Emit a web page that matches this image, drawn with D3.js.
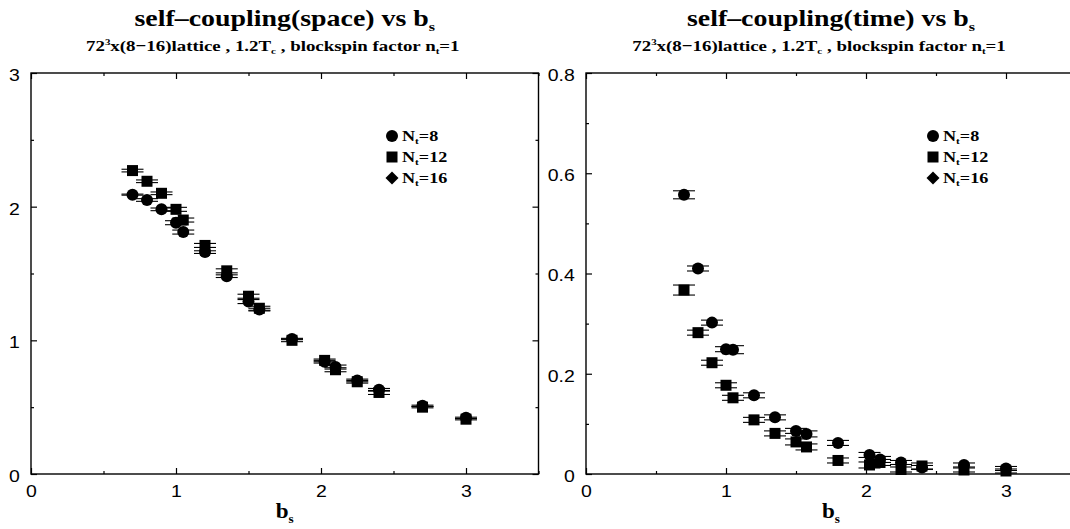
<!DOCTYPE html>
<html>
<head>
<meta charset="utf-8">
<script src="https://cdn.jsdelivr.net/npm/d3@7/dist/d3.min.js"></script>
<style>
  body { margin: 0; background: #fff; }
  svg { display: block; }
</style>
</head>
<body>
<svg id="chart" width="1070" height="529"></svg>
<script>
// blockspin length b_s for each measurement
const bsValues = [0.7, 0.8, 0.9, 1.0, 1.05, 1.2, 1.35, 1.5, 1.575, 1.8, 2.025, 2.1, 2.25, 2.4, 2.7, 3.0];

// self-coupling (space)
const spaceNt8    = [2.09, 2.05, 1.98, 1.88, 1.81, 1.66, 1.48, 1.29, 1.23, 1.01, 0.84, 0.80, 0.70, 0.63, 0.51, 0.42];
const spaceNt8Err = [0.004, 0.010, 0.010, 0.015, 0.015, 0.010, 0.010, 0.015, 0.010, 0.005, 0.010, 0.015, 0.010, 0.010, 0.005, 0.005];
const spaceNt12    = [2.27, 2.19, 2.10, 1.98, 1.90, 1.71, 1.52, 1.33, 1.24, 1.00, 0.85, 0.78, 0.69, 0.61, 0.50, 0.41];
const spaceNt12Err = [0.010, 0.010, 0.010, 0.015, 0.015, 0.015, 0.015, 0.015, 0.015, 0.010, 0.010, 0.015, 0.010, 0.015, 0.005, 0.005];

// self-coupling (time)
const timeNt8    = [0.557, 0.410, 0.302, 0.249, 0.248, 0.157, 0.113, 0.086, 0.080, 0.062, 0.038, 0.029, 0.023, 0.013, 0.018, 0.011];
const timeNt8Err = [0.008, 0.005, 0.005, 0.005, 0.008, 0.005, 0.005, 0.005, 0.006, 0.005, 0.005, 0.006, 0.004, 0.004, 0.004, 0.004];
const timeNt12    = [0.367, 0.282, 0.222, 0.177, 0.152, 0.108, 0.081, 0.064, 0.054, 0.027, 0.018, 0.023, 0.009, 0.016, 0.008, 0.006];
const timeNt12Err = [0.010, 0.005, 0.005, 0.005, 0.005, 0.005, 0.005, 0.006, 0.006, 0.005, 0.006, 0.006, 0.005, 0.006, 0.004, 0.004];

// legend entries (N_t values) and their symbols
const legendNt = ["8", "12", "16"];
const legendSymbols = ["circle", "square", "diamond"];

// axis ticks
const xMajorTicks = [0, 1, 2, 3];
const xMinorTicks = [0.5, 1.5, 2.5, 3.5];
const spaceYMajor = [0, 1, 2, 3];
const spaceYMinor = [0.5, 1.5, 2.5];
const timeYMajor = [0, 0.2, 0.4, 0.6, 0.8];
const timeYMinor = [0.1, 0.3, 0.5, 0.7];

const svg = d3.select("#chart");
const SERIF = "'Liberation Serif', 'Times New Roman', serif";
const SANS = "'Liberation Sans', Arial, sans-serif";

// text stretched horizontally around its anchor point
function stretchedText(parent, x, y, sx, size, family, anchor) {
  return parent.append("text")
    .attr("transform", `translate(${x},${y}) scale(${sx},1)`)
    .attr("text-anchor", anchor || "middle")
    .attr("font-family", family)
    .attr("font-weight", family === SERIF ? "bold" : "normal")
    .attr("font-size", size)
    .attr("fill", "#000");
}

function addPart(t, str, shift, size) {
  const s = t.append("tspan").text(str);
  if (shift) s.attr("dy", shift);
  if (size) s.attr("font-size", size);
  return s;
}

function drawSymbol(g, kind, cx, cy) {
  if (kind === "circle") {
    g.append("circle").attr("cx", cx).attr("cy", cy).attr("r", 6).attr("fill", "#000");
  } else if (kind === "square") {
    g.append("rect").attr("x", cx - 5.5).attr("y", cy - 5.5).attr("width", 11).attr("height", 11).attr("fill", "#000");
  } else {
    g.append("path")
      .attr("d", `M${cx},${cy - 6.5}L${cx + 6.5},${cy}L${cx},${cy + 6.5}L${cx - 6.5},${cy}Z`)
      .attr("fill", "#000");
  }
}

function drawPanel(cfg) {
  const g = svg.append("g");
  const x = d3.scaleLinear().domain([0, 3.5]).range([cfg.left, cfg.right]);
  const y = d3.scaleLinear().domain(cfg.yDomain).range([474, 73]);
  const mid = (cfg.left + cfg.right) / 2;

  // frame
  g.append("rect")
    .attr("x", x(0)).attr("y", y(cfg.yDomain[1]))
    .attr("width", x(3.5) - x(0)).attr("height", y(cfg.yDomain[0]) - y(cfg.yDomain[1]))
    .attr("fill", "none").attr("stroke", "#000").attr("stroke-width", 1.4);

  const tickStyle = sel => {
    sel.select(".domain").remove();
    sel.selectAll(".tick line").attr("stroke", "#000").attr("stroke-width", 1.2);
  };

  // bottom axis with labels
  const bottom = g.append("g").attr("transform", `translate(0,${y(cfg.yDomain[0])})`)
    .call(d3.axisBottom(x).tickValues(xMajorTicks).tickSize(-6).tickPadding(11).tickFormat(d3.format("d")))
    .call(tickStyle);
  bottom.selectAll(".tick text")
    .attr("font-family", SANS).attr("font-size", 16.5).attr("fill", "#000")
    .attr("transform", "scale(1.18,1)");
  g.append("g").attr("transform", `translate(0,${y(cfg.yDomain[0])})`)
    .call(d3.axisBottom(x).tickValues(xMinorTicks).tickSize(-3).tickFormat(""))
    .call(tickStyle);

  // top axis (ticks only)
  g.append("g").attr("transform", `translate(0,${y(cfg.yDomain[1])})`)
    .call(d3.axisTop(x).tickValues(xMajorTicks).tickSize(-6).tickFormat(""))
    .call(tickStyle);
  g.append("g").attr("transform", `translate(0,${y(cfg.yDomain[1])})`)
    .call(d3.axisTop(x).tickValues(xMinorTicks).tickSize(-3).tickFormat(""))
    .call(tickStyle);

  // left axis with labels
  const left = g.append("g").attr("transform", `translate(${x(0)},0)`)
    .call(d3.axisLeft(y).tickValues(cfg.yMajor).tickSize(-6).tickPadding(9.5).tickFormat(cfg.yFormat))
    .call(tickStyle);
  left.selectAll(".tick text")
    .attr("font-family", SANS).attr("font-size", 16.5).attr("fill", "#000")
    .attr("dy", "0.45em")
    .attr("transform", "scale(1.18,1)");
  g.append("g").attr("transform", `translate(${x(0)},0)`)
    .call(d3.axisLeft(y).tickValues(cfg.yMinor).tickSize(-3).tickFormat(""))
    .call(tickStyle);

  // right axis (ticks only)
  g.append("g").attr("transform", `translate(${x(3.5)},0)`)
    .call(d3.axisRight(y).tickValues(cfg.yMajor).tickSize(-6).tickFormat(""))
    .call(tickStyle);
  g.append("g").attr("transform", `translate(${x(3.5)},0)`)
    .call(d3.axisRight(y).tickValues(cfg.yMinor).tickSize(-3).tickFormat(""))
    .call(tickStyle);

  // titles
  const title = stretchedText(g, mid, 26, 1.24, 22.5, SERIF);
  addPart(title, cfg.title);
  addPart(title, "s", 5, 13);

  const sub = stretchedText(g, mid - 12, 51, 1.22, 15.5, SERIF);
  addPart(sub, "72");
  addPart(sub, "3", -6, 9);
  addPart(sub, "x(8\u221216)lattice , 1.2T", 6);
  addPart(sub, "c", 3, 9);
  addPart(sub, " , blockspin factor n", -3);
  addPart(sub, "t", 3, 9);
  addPart(sub, "=1", -3);

  // x axis label
  const xl = stretchedText(g, mid, 518, 1.1, 21, SERIF);
  addPart(xl, "b");
  addPart(xl, "s", 5, 12);

  // error bars then symbols
  const capHalf = 11;
  cfg.series.forEach(s => {
    const eg = g.append("g").attr("stroke", "#000").attr("stroke-width", 1.1);
    s.values.forEach((v, i) => {
      const cx = x(bsValues[i]);
      const yHi = y(v + s.errors[i]);
      const yLo = y(v - s.errors[i]);
      eg.append("line").attr("x1", cx).attr("x2", cx).attr("y1", yHi).attr("y2", yLo);
      eg.append("line").attr("x1", cx - capHalf).attr("x2", cx + capHalf).attr("y1", yHi).attr("y2", yHi);
      eg.append("line").attr("x1", cx - capHalf).attr("x2", cx + capHalf).attr("y1", yLo).attr("y2", yLo);
    });
  });
  cfg.series.forEach(s => {
    const mg = g.append("g");
    s.values.forEach((v, i) => drawSymbol(mg, s.symbol, x(bsValues[i]), y(v)));
  });

  // legend
  const lg = g.append("g");
  legendNt.forEach((nt, i) => {
    const ly = 136 + i * 21;
    drawSymbol(lg, legendSymbols[i], cfg.legendX, ly);
    const t = stretchedText(lg, cfg.legendX + 10, ly + 5, 1.25, 14.5, SERIF, "start");
    addPart(t, "N");
    addPart(t, "t", 3, 9);
    addPart(t, "=" + nt, -3);
  });
}

drawPanel({
  left: 31, right: 538.5,
  yDomain: [0, 3], yMajor: spaceYMajor, yMinor: spaceYMinor, yFormat: d3.format("d"),
  title: "self\u2013coupling(space) vs b",
  legendX: 392,
  series: [
    { symbol: "circle", values: spaceNt8, errors: spaceNt8Err },
    { symbol: "square", values: spaceNt12, errors: spaceNt12Err }
  ]
});

drawPanel({
  left: 586, right: 1076,
  yDomain: [0, 0.8], yMajor: timeYMajor, yMinor: timeYMinor, yFormat: d => d === 0 ? "0" : d3.format(".1f")(d),
  title: "self\u2013coupling(time) vs b",
  legendX: 933,
  series: [
    { symbol: "circle", values: timeNt8, errors: timeNt8Err },
    { symbol: "square", values: timeNt12, errors: timeNt12Err }
  ]
});
</script>
</body>
</html>
